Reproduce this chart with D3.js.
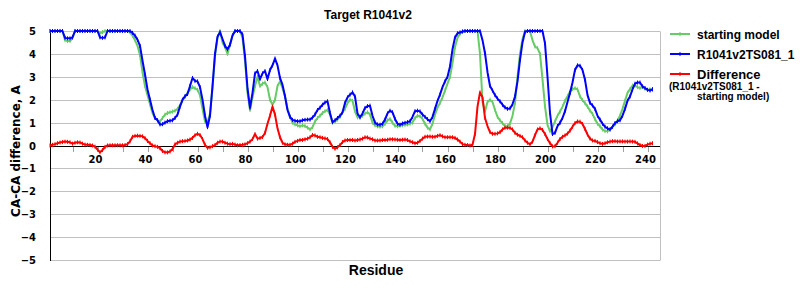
<!DOCTYPE html>
<html>
<head>
<meta charset="utf-8">
<script src="https://cdn.jsdelivr.net/npm/d3@7"></script>
<style>
  body { margin: 0; background: #fff; }
  svg { display: block; }
</style>
</head>
<body>
<div id="chart"></div>
<script>
// Values per residue, starting at residue 1 (rows of 10)
const startingModel = [
  5,5,5,5,5,5,4.6,4.56,4.56,4.7,
  5,5,5,5,5,5,5,5,5,5,
  4.9,4.95,5,5,5,5,5,5,5,5,
  5,5,4.95,4.8,4.6,4.35,3.95,3.2,2.6,2.2,
  1.8,1.42,1.2,1.1,1.05,1.2,1.35,1.42,1.45,1.48,
  1.52,1.6,1.75,1.95,2.14,2.3,2.45,2.55,2.5,2.43,
  2.2,1.6,1.05,1.0,1.4,2.5,3.9,4.7,5,4.5,
  4.3,4.0,4.4,4.8,5,5,5,4.7,3.7,2.3,
  1.55,2.1,2.6,3.0,2.6,2.7,2.75,2.55,2.0,1.78,
  2.0,2.6,2.8,2.5,2.15,1.6,1.25,1.0,0.92,0.88,
  0.84,0.88,0.85,0.78,0.7,0.8,1.05,1.2,1.3,1.42,
  1.5,1.55,1.35,1.0,1.05,1.13,1.25,1.45,1.6,1.85,
  2.0,1.95,1.5,1.23,1.23,1.3,1.4,1.45,1.35,1.0,
  0.88,0.84,0.82,0.84,0.95,1.1,1.16,1.0,0.86,0.84,
  0.86,0.88,0.9,0.92,0.95,1.0,1.2,1.3,1.28,1.16,
  0.95,0.78,0.7,0.95,1.35,1.65,1.86,2.1,2.4,2.7,
  3.0,3.6,4.3,4.7,4.88,4.97,5,5,5,5,
  5,5,4.0,1.9,1.5,1.9,2.0,1.9,1.55,1.25,
  1.1,0.98,0.85,0.84,0.95,1.3,1.86,3.0,4.0,4.65,
  5,5,5,4.6,4.32,4.25,4.0,2.9,1.71,0.9,
  0.62,0.8,1.05,1.3,1.48,1.7,1.95,2.15,2.36,2.46,
  2.5,2.45,2.14,1.98,1.85,1.7,1.52,1.38,1.15,0.95,
  0.84,0.7,0.63,0.62,0.7,0.82,0.92,1.1,1.3,1.6,
  1.95,2.3,2.46,2.62,2.62,2.55,2.51,2.55,2.48,2.43,
  2.45,2.42
];

const modelTS081 = [
  5,5,5,5,5,5,4.7,4.68,4.68,4.72,
  5,5,5,5,5,5,5,5,5,5,
  4.72,4.7,4.72,5,5,5,5,5,5,5,
  5,5,5,4.92,4.8,4.62,4.35,3.7,3.1,2.45,
  2.0,1.55,1.2,1.1,0.92,0.93,1.0,1.06,1.08,1.1,
  1.2,1.35,1.7,2.0,2.15,2.25,2.6,2.95,2.82,2.8,
  2.55,2.0,1.3,0.8,1.3,2.6,4.0,4.75,4.95,4.65,
  4.35,4.2,4.4,4.8,5,5,5,4.85,3.9,2.5,
  1.65,2.3,3.15,3.25,2.9,3.15,3.25,2.9,3.3,3.5,
  3.8,3.5,2.95,2.65,2.15,1.55,1.25,1.12,1.08,1.06,
  1.06,1.1,1.12,1.13,1.13,1.22,1.35,1.55,1.65,1.78,
  1.88,1.93,1.42,1.02,1.1,1.2,1.3,1.45,1.86,2.1,
  2.22,2.32,2.14,1.4,1.23,1.4,1.64,1.72,1.74,1.3,
  1.0,0.92,0.91,0.95,1.13,1.4,1.52,1.45,1.16,0.95,
  0.91,0.96,0.99,1.02,1.06,1.25,1.5,1.52,1.49,1.35,
  1.25,1.15,1.06,1.25,1.6,1.95,2.22,2.55,2.8,3.0,
  3.45,4.2,4.72,4.9,4.94,4.98,5,5,5,5,
  5,5,5,4.6,4.03,3.2,2.6,2.4,2.2,2.05,
  1.93,1.78,1.66,1.6,1.62,1.8,2.14,2.8,3.74,4.5,
  4.96,5,5,5,5,5,5,5,4.46,3.0,
  1.42,0.5,0.55,0.85,0.99,1.2,1.5,1.9,2.29,2.75,
  3.3,3.5,3.48,3.3,2.87,2.2,1.86,1.75,1.6,1.3,
  1.13,0.95,0.82,0.75,0.7,0.82,0.98,1.06,1.1,1.3,
  1.6,1.95,2.14,2.45,2.7,2.75,2.75,2.58,2.51,2.43,
  2.4,2.46
];

const difference = [
  0,0.03,0.06,0.1,0.13,0.15,0.17,0.16,0.14,0.08,
  0.12,0.14,0.13,0.08,0.04,0.03,0.02,0,-0.05,-0.18,
  -0.3,-0.2,-0.06,0,0.01,0.01,0.01,0.01,0.01,0.01,
  0.02,0.06,0.18,0.38,0.42,0.43,0.42,0.4,0.32,0.2,
  0.1,0,-0.03,-0.06,-0.12,-0.24,-0.3,-0.3,-0.26,-0.15,
  0.05,0.12,0.17,0.19,0.2,0.22,0.26,0.33,0.45,0.51,
  0.46,0.28,0.03,-0.1,-0.08,-0.03,0.02,0.12,0.17,0.17,
  0.12,0.08,0.06,0.07,0.04,0.01,0.02,0.03,0.05,0.1,
  0.17,0.28,0.5,0.3,0.33,0.37,0.55,0.95,1.3,1.7,
  1.35,0.75,0.36,0.12,0.05,0.03,0.03,0.08,0.16,0.2,
  0.24,0.24,0.27,0.3,0.36,0.46,0.44,0.38,0.36,0.33,
  0.31,0.28,0.14,-0.06,-0.14,-0.08,0.02,0.15,0.22,0.24,
  0.24,0.24,0.22,0.24,0.26,0.3,0.36,0.35,0.3,0.27,
  0.22,0.22,0.22,0.24,0.24,0.25,0.27,0.27,0.26,0.25,
  0.24,0.25,0.26,0.24,0.18,0.14,0.1,0.12,0.2,0.3,
  0.38,0.39,0.39,0.38,0.38,0.42,0.45,0.4,0.36,0.36,
  0.36,0.36,0.33,0.26,0.17,0.06,0.03,0.02,0,0.03,
  0.5,1.7,2.32,2.1,1.2,0.85,0.58,0.51,0.51,0.53,
  0.58,0.7,0.78,0.78,0.77,0.7,0.55,0.47,0.42,0.36,
  0.22,0.12,0.05,0.17,0.45,0.7,0.75,0.68,0.5,0.28,
  0.1,-0.04,-0.03,0.12,0.28,0.38,0.44,0.52,0.65,0.82,
  0.98,1.05,1.04,0.94,0.72,0.48,0.3,0.22,0.2,0.15,
  0.1,0.07,0.1,0.14,0.17,0.19,0.19,0.17,0.18,0.18,
  0.17,0.17,0.18,0.17,0.16,0.09,0.02,-0.02,-0.02,0.04,
  0.08,0.1
];

const yTicks = [5, 4, 3, 2, 1, 0, -1, -2, -3, -4, -5];
const xLabels = [20, 40, 60, 80, 100, 120, 140, 160, 180, 200, 220, 240];
const xMinorTicks = [10, 20, 30, 40, 50, 60, 70, 80, 90, 100, 110, 120, 130, 140, 150, 160, 170, 180, 190, 200, 210, 220, 230, 240];

const seriesList = [
  { name: "starting model", values: startingModel, color: "#66cc66" },
  { name: "R1041v2TS081_1", values: modelTS081, color: "#0000ff" },
  { name: "Difference", values: difference, color: "#ff0000" }
];

const width = 800, height = 300;
const plot = { left: 50, right: 660, top: 31, bottom: 260 };

const svg = d3.select("#chart").append("svg")
    .attr("width", width)
    .attr("height", height);

const x = d3.scaleLinear().domain([1, 245]).range([plot.left, plot.right]);
const y = d3.scaleLinear().domain([-5, 5]).range([plot.bottom, plot.top]);

// Gridlines
svg.append("g")
    .selectAll("line")
    .data(yTicks)
    .join("line")
    .attr("x1", plot.left)
    .attr("x2", plot.right)
    .attr("y1", d => Math.round(y(d)) + 0.5)
    .attr("y2", d => Math.round(y(d)) + 0.5)
    .attr("stroke", "#c0c0c0");

// right border
svg.append("line")
    .attr("x1", plot.right + 0.5).attr("x2", plot.right + 0.5)
    .attr("y1", Math.round(y(5)) + 0.5).attr("y2", Math.round(y(-5)) + 0.5)
    .attr("stroke", "#c0c0c0");

// X minor ticks under zero line
svg.append("g")
    .selectAll("line")
    .data(xMinorTicks)
    .join("line")
    .attr("x1", d => Math.round(x(d)) + 0.5)
    .attr("x2", d => Math.round(x(d)) + 0.5)
    .attr("y1", Math.round(y(0)) + 0.5)
    .attr("y2", Math.round(y(0)) + 6)
    .attr("stroke", "#a0a0a0");

// Zero line and left axis
svg.append("line")
    .attr("x1", plot.left).attr("x2", plot.right)
    .attr("y1", Math.round(y(0)) + 0.5).attr("y2", Math.round(y(0)) + 0.5)
    .attr("stroke", "#000");
svg.append("line")
    .attr("x1", plot.left + 0.5).attr("x2", plot.left + 0.5)
    .attr("y1", Math.round(y(5))).attr("y2", Math.round(y(-5)) + 1)
    .attr("stroke", "#000");

// Y tick labels
svg.append("g")
    .selectAll("text")
    .data(yTicks)
    .join("text")
    .attr("x", 36)
    .attr("y", d => y(d) + 4)
    .attr("text-anchor", "end")
    .style("font-family", "'DejaVu Sans', sans-serif")
    .style("font-weight", "bold")
    .style("font-size", "10px")
    .text(d => d < 0 ? "\u2212" + Math.abs(d) : d);

// X tick labels
svg.append("g")
    .selectAll("text")
    .data(xLabels)
    .join("text")
    .attr("x", d => x(d) - 2)
    .attr("y", 163)
    .attr("text-anchor", "middle")
    .style("font-family", "'DejaVu Sans', sans-serif")
    .style("font-weight", "bold")
    .style("font-size", "10px")
    .text(d => d);

// Lines
const line = d3.line()
    .x((d, i) => x(i + 1))
    .y(d => y(d));

seriesList.forEach(s => {
    svg.append("path")
        .datum(s.values)
        .attr("d", line)
        .attr("fill", "none")
        .attr("stroke", s.color)
        .attr("stroke-width", 2)
        .attr("stroke-linejoin", "round");

    // tiny markers at every residue
    svg.append("g")
        .selectAll("path")
        .data(s.values)
        .join("path")
        .attr("transform", (d, i) => `translate(${x(i + 1)},${y(d)})`)
        .attr("d", "M0,-2V2")
        .attr("stroke", s.color)
        .attr("stroke-width", 1);
});

// Title
svg.append("text")
    .attr("x", 368)
    .attr("y", 19)
    .attr("text-anchor", "middle")
    .style("font-family", "'Liberation Sans', Arial, sans-serif")
    .style("font-weight", "bold")
    .style("font-size", "12px")
    .text("Target R1041v2");

// Y axis label
svg.append("text")
    .attr("transform", "translate(20,151) rotate(-90)")
    .attr("text-anchor", "middle")
    .style("font-family", "'DejaVu Sans', sans-serif")
    .style("font-weight", "bold")
    .style("font-size", "12px")
    .text("CA-CA difference, A");

// X axis label
svg.append("text")
    .attr("x", 376)
    .attr("y", 275)
    .attr("text-anchor", "middle")
    .style("font-family", "'Liberation Sans Narrow', 'Liberation Sans', Arial, sans-serif")
    .style("font-weight", "bold")
    .style("font-size", "14px")
    .text("Residue");

// Legend
const legend = svg.append("g");
const legendY = [34, 54, 74];
seriesList.forEach((s, i) => {
    legend.append("line")
        .attr("x1", 670).attr("x2", 690)
        .attr("y1", legendY[i]).attr("y2", legendY[i])
        .attr("stroke", s.color)
        .attr("stroke-width", 2);
    legend.append("path")
        .attr("transform", `translate(680,${legendY[i]})`)
        .attr("d", "M0,-2V2")
        .attr("stroke", s.color);
    legend.append("text")
        .attr("x", 697)
        .attr("y", legendY[i] + 4.5)
        .style("font-family", "'Liberation Sans', Arial, sans-serif")
        .style("font-weight", "bold")
        .style("font-size", i === 2 ? "13px" : "12px")
        .text(s.name);
});
legend.append("text")
    .attr("x", 669)
    .attr("y", 90)
    .style("font-family", "'Liberation Sans Narrow', 'Liberation Sans', Arial, sans-serif")
    .style("font-weight", "bold")
    .style("font-size", "10px")
    .text("(R1041v2TS081_1 -");
legend.append("text")
    .attr("x", 697)
    .attr("y", 100)
    .style("font-family", "'Liberation Sans Narrow', 'Liberation Sans', Arial, sans-serif")
    .style("font-weight", "bold")
    .style("font-size", "10px")
    .text("starting model)");
</script>
</body>
</html>
